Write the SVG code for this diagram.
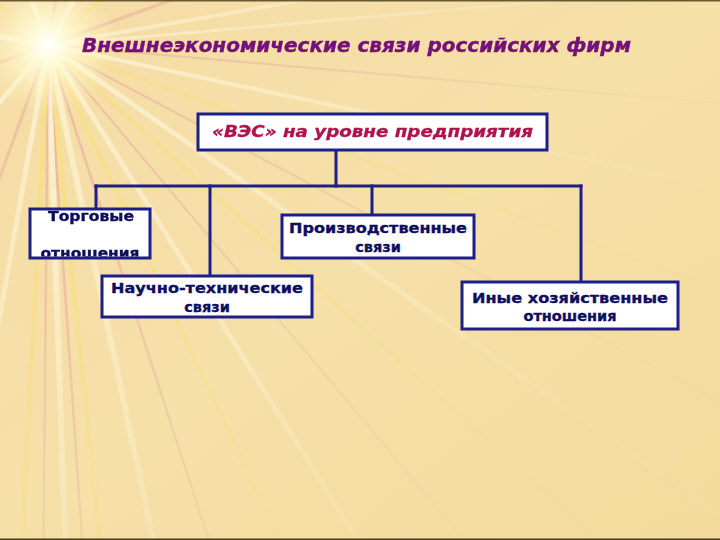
<svg xmlns="http://www.w3.org/2000/svg" width="720" height="540" viewBox="0 0 720 540">
<defs>
<style>
.box{fill:#ffffff;stroke:#1e1e8a;stroke-width:3}
.lbl{font-family:"DejaVu Sans","Liberation Sans",sans-serif;font-weight:bold;font-size:14.5px;fill:#0e0e5e;stroke:#0e0e5e;stroke-width:0.35;text-anchor:middle}
.con{stroke:#1e1e8a;stroke-width:3;fill:none;stroke-linecap:square}
.rw{stroke:#fffbe8}
.ry{stroke:#f8e070}
.rp{stroke:#e6a0a0}
</style>
<linearGradient id="bg" x1="0" y1="0" x2="1" y2="1">
<stop offset="0" stop-color="#f6dca6"/>
<stop offset="0.5" stop-color="#f5e0a8"/>
<stop offset="1" stop-color="#f3da9c"/>
</linearGradient>
<radialGradient id="fade" cx="48" cy="45" r="650" gradientUnits="userSpaceOnUse">
<stop offset="0" stop-color="#fff" stop-opacity="1"/>
<stop offset="0.5" stop-color="#fff" stop-opacity="0.55"/>
<stop offset="1" stop-color="#fff" stop-opacity="0.05"/>
</radialGradient>
<mask id="m"><rect width="720" height="540" fill="url(#fade)"/></mask>
<radialGradient id="sun" cx="48" cy="45" r="70" gradientUnits="userSpaceOnUse">
<stop offset="0" stop-color="#ffffff" stop-opacity="1"/>
<stop offset="0.3" stop-color="#fffbd8" stop-opacity="0.9"/>
<stop offset="1" stop-color="#fff6c0" stop-opacity="0"/>
</radialGradient>
<clipPath id="clipT"><rect x="31" y="210.5" width="118" height="46"/></clipPath>
</defs>
<rect width="720" height="540" fill="url(#bg)"/>
<g id="rays" mask="url(#m)" stroke-linecap="round" fill="none">
<line class="rw" x1="48" y1="45" x2="944" y2="-33" stroke-width="3" opacity="0.5"/>
<line class="rp" x1="48" y1="45" x2="944" y2="123" stroke-width="2" opacity="0.5"/>
<line class="rw" x1="48" y1="45" x2="928" y2="232" stroke-width="4" opacity="0.6"/>
<line class="ry" x1="48" y1="45" x2="894" y2="353" stroke-width="3" opacity="0.5"/>
<line class="rp" x1="48" y1="45" x2="843" y2="467" stroke-width="2" opacity="0.5"/>
<line class="rw" x1="48" y1="45" x2="785" y2="561" stroke-width="5" opacity="0.6"/>
<line class="ry" x1="48" y1="45" x2="717" y2="647" stroke-width="4" opacity="0.5"/>
<line class="rp" x1="48" y1="45" x2="627" y2="734" stroke-width="2" opacity="0.5"/>
<line class="rw" x1="48" y1="45" x2="525" y2="808" stroke-width="5" opacity="0.6"/>
<line class="ry" x1="48" y1="45" x2="429" y2="860" stroke-width="4" opacity="0.6"/>
<line class="rp" x1="48" y1="45" x2="326" y2="901" stroke-width="2.5" opacity="0.6"/>
<line class="rw" x1="48" y1="45" x2="235" y2="925" stroke-width="6" opacity="0.6"/>
<line class="ry" x1="48" y1="45" x2="142" y2="940" stroke-width="5" opacity="0.6"/>
<line class="rp" x1="48" y1="45" x2="110" y2="944" stroke-width="2.5" opacity="0.7"/>
<line class="rw" x1="48" y1="45" x2="79" y2="944" stroke-width="6" opacity="0.7"/>
<line class="rp" x1="48" y1="45" x2="40" y2="944" stroke-width="2.5" opacity="0.6"/>
<line class="ry" x1="48" y1="45" x2="1" y2="944" stroke-width="5" opacity="0.6"/>
<line class="rw" x1="48" y1="45" x2="-109" y2="931" stroke-width="5" opacity="0.6"/>
<line class="rp" x1="48" y1="45" x2="-260" y2="891" stroke-width="3" opacity="0.5"/>
<line class="rw" x1="48" y1="45" x2="-531" y2="734" stroke-width="5" opacity="0.6"/>
<line class="rp" x1="48" y1="45" x2="-798" y2="353" stroke-width="3" opacity="0.5"/>
<line class="rw" x1="48" y1="45" x2="-838" y2="-111" stroke-width="5" opacity="0.6"/>
<line class="ry" x1="48" y1="45" x2="-641" y2="-534" stroke-width="4" opacity="0.5"/>
<line class="rw" x1="48" y1="45" x2="-260" y2="-801" stroke-width="5" opacity="0.6"/>
<line class="rp" x1="48" y1="45" x2="205" y2="-842" stroke-width="3" opacity="0.5"/>
<line class="rw" x1="48" y1="45" x2="498" y2="-734" stroke-width="5" opacity="0.6"/>
<line class="ry" x1="48" y1="45" x2="737" y2="-534" stroke-width="4" opacity="0.5"/>
<line class="rp" x1="48" y1="45" x2="894" y2="-263" stroke-width="3" opacity="0.5"/>
<line class="rw" x1="48" y1="45" x2="934" y2="-111" stroke-width="4" opacity="0.5"/>
</g>
<circle cx="48" cy="45" r="70" fill="url(#sun)"/>
<rect x="0" y="0" width="720" height="1.5" fill="#6a5a30"/>
<rect x="0" y="538.5" width="720" height="1.5" fill="#4a3a20"/>
<text id="title" x="82" y="52" textLength="549" lengthAdjust="spacingAndGlyphs" font-family="DejaVu Sans, Liberation Sans, sans-serif" font-weight="bold" font-style="italic" font-size="19" fill="#74107a" stroke="#74107a" stroke-width="0.4">Внешнеэкономические связи российских фирм</text>
<g id="connectors">
<line class="con" x1="336" y1="150" x2="336" y2="186"/>
<line class="con" x1="96" y1="186" x2="581" y2="186"/>
<line class="con" x1="96" y1="186" x2="96" y2="209"/>
<line class="con" x1="210" y1="186" x2="210" y2="276"/>
<line class="con" x1="372" y1="186" x2="372" y2="215"/>
<line class="con" x1="581" y1="186" x2="581" y2="282"/>
</g>
<g id="root">
<rect class="box" x="198" y="114" width="349" height="36"/>
<text x="372.5" y="137" textLength="321" lengthAdjust="spacingAndGlyphs" text-anchor="middle" font-family="DejaVu Sans, Liberation Sans, sans-serif" font-weight="bold" font-style="italic" font-size="15.5" fill="#b0124e" stroke="#b0124e" stroke-width="0.3">«ВЭС» на уровне предприятия</text>
</g>
<g id="trade">
<rect class="box" x="30" y="209" width="120" height="49"/>
<g clip-path="url(#clipT)">
<text class="lbl" x="91" y="221" textLength="86" lengthAdjust="spacingAndGlyphs">Торговые</text>
<text class="lbl" x="90" y="258" textLength="99" lengthAdjust="spacingAndGlyphs">отношения</text>
</g>
</g>
<g id="production">
<rect class="box" x="282" y="215" width="192" height="43"/>
<text class="lbl" x="378" y="233" textLength="178" lengthAdjust="spacingAndGlyphs">Производственные</text>
<text class="lbl" x="378" y="252">связи</text>
</g>
<g id="science">
<rect class="box" x="102" y="276" width="210" height="41"/>
<text class="lbl" x="207" y="293" textLength="192" lengthAdjust="spacingAndGlyphs">Научно-технические</text>
<text class="lbl" x="207" y="312">связи</text>
</g>
<g id="other">
<rect class="box" x="462" y="282" width="216" height="47"/>
<text class="lbl" x="570" y="303" textLength="196" lengthAdjust="spacingAndGlyphs">Иные хозяйственные</text>
<text class="lbl" x="570" y="321">отношения</text>
</g>
</svg>
